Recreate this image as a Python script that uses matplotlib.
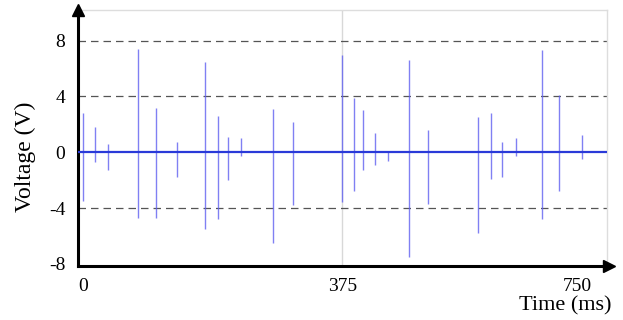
import numpy as np
import matplotlib
matplotlib.use("Agg")
import matplotlib.pyplot as plt
from matplotlib.transforms import ScaledTranslation

# spike times (ms) and their peak / trough voltages (V)
spike_t = [7, 24, 43, 85, 111, 140, 180, 199, 213, 231, 276, 305,
           374, 391, 405, 421, 440, 469, 496, 567, 586, 601, 621, 658, 682, 715]
spike_hi = [2.8, 1.8, 0.6, 7.4, 3.2, 0.7, 6.5, 2.6, 1.1, 1.0, 3.1, 2.2,
            7.0, 3.9, 3.0, 1.4, 0.0, 6.6, 1.6, 2.5, 2.8, 0.7, 1.0, 7.3, 4.1, 1.2]
spike_lo = [-3.5, -0.7, -1.3, -4.7, -4.7, -1.8, -5.5, -4.8, -2.0, -0.3, -6.5, -3.8,
            -3.6, -2.8, -1.3, -0.9, -0.6, -7.5, -3.7, -5.8, -1.9, -1.8, -0.3, -4.8, -2.8, -0.5]

yticks = [-8, -4, 0, 4, 8]
xticks = [0, 375, 750]

plt.rcParams['font.family'] = ['Liberation Serif', 'DejaVu Serif']

fig = plt.figure(figsize=(6.23, 3.2), dpi=100)
ax = fig.add_axes([0.125, 0.169, 0.849, 0.8])

ax.vlines(spike_t, spike_lo, spike_hi, color='#6060f0', lw=1.0, alpha=0.8, zorder=3)
ax.plot([0, 750], [0, 0], color='#2a3ad8', lw=1.6, zorder=4)

for y in [-4, 4, 8]:
    ax.axhline(y, color='#555555', lw=0.9, ls=(0, (6, 4)), zorder=1)
ax.axvline(375, color='#d8d8d8', lw=1.0, zorder=0)

ax.set_xlim(0, 750)
ax.set_ylim(-8.15, 10.2)
ax.set_xticks(xticks)
ax.set_xticklabels([str(x) for x in xticks])
ax.set_yticks(yticks)
ax.set_yticklabels([str(y) for y in yticks])
ax.tick_params(length=0, labelsize=14, pad=9)
labs = ax.get_xticklabels()
labs[0].set_ha('left')
labs[-1].set_ha('right')
labs[-1].set_transform(labs[-1].get_transform() + ScaledTranslation(-0.15, 0, fig.dpi_scale_trans))

for s in ['left', 'bottom']:
    ax.spines[s].set_linewidth(2.2)
    ax.spines[s].set_color('black')
for s in ['top', 'right']:
    ax.spines[s].set_color('#dddddd')
    ax.spines[s].set_linewidth(1.0)

ax.plot(0, 1, '^k', ms=8, transform=ax.transAxes, clip_on=False, zorder=6)
ax.plot(1.005, 0, '>k', ms=8, transform=ax.transAxes, clip_on=False, zorder=6)

fig.text(0.040, 0.51, 'Voltage (V)', fontsize=17, rotation=90, ha='center', va='center')
fig.text(0.982, 0.015, 'Time (ms)', fontsize=16, ha='right', va='bottom')

fig.savefig('out.png', dpi=100)
